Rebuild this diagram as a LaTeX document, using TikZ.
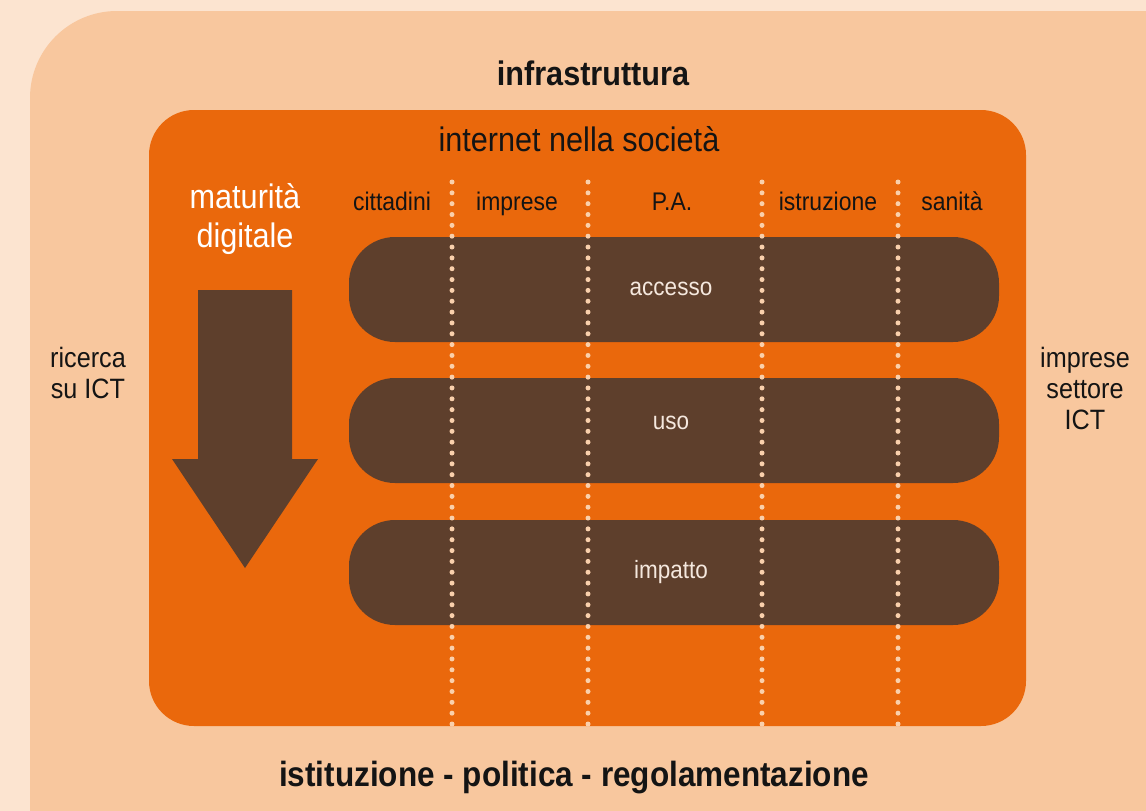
\documentclass[tikz,border=0pt]{standalone}
\usepackage{fontspec}
\setmainfont{Liberation Sans}[FakeStretch=0.9]
\definecolor{bglight}{RGB}{252,228,208}
\definecolor{peach}{RGB}{248,199,158}
\definecolor{orng}{RGB}{234,104,12}
\definecolor{brwn}{RGB}{94,63,44}
\definecolor{dotc}{RGB}{250,208,172}
\definecolor{cream}{RGB}{245,232,222}
\begin{document}
\begin{tikzpicture}[x=1pt,y=-1pt,
  lbl/.style={inner sep=0pt,anchor=base,text=black!92},
  collbl/.style={lbl,font=\fontsize{25.5}{27}\selectfont},
  rowlbl/.style={inner sep=0pt,anchor=center,text=cream,font=\fontsize{25}{27}\selectfont},
  sidelbl/.style={inner sep=0pt,anchor=center,align=center,text=black!92,font=\fontsize{28}{31}\selectfont},
  bar/.style={fill=brwn,rounded corners=46},
  dotline/.style={dotc,line width=5pt,line cap=round,dash pattern=on 0pt off 10.84pt}]
\useasboundingbox (0,0) rectangle (1146,811);
\fill[bglight] (0,0) rectangle (1146,811);
\begin{scope}
  \clip (0,0) rectangle (1146,811);
  \fill[peach,rounded corners=87] (30,11) rectangle (1300,1000);
\end{scope}
% inner orange
\fill[orng,rounded corners=45] (149,110) rectangle (1026,726);
% bars
\fill[bar] (349,237) rectangle (999,342);
\fill[bar] (349,378) rectangle (999,483);
\fill[bar] (349,520) rectangle (999,625);
% dotted column separators
\foreach \xx/\nm in {452/d1,588/d2,762/d3,898/d4}{
  \coordinate (\nm top) at (\xx,182);
  \coordinate (\nm bot) at (\xx,724.2);
  \draw[dotline] (\nm top) -- (\nm bot);
}
% arrow
\fill[brwn] (198,290) -- (292,290) -- (292,459) -- (318,459) -- (245,568) -- (172,459) -- (198,459) -- cycle;
% texts
\node[lbl,font=\bfseries\fontsize{34}{36}\selectfont] (infra) at (593,85) {infrastruttura};
\node[lbl,font=\fontsize{34}{36}\selectfont] (internet) at (579,151) {internet nella società};
\node[inner sep=0pt,anchor=center,align=center,text=white,font=\fontsize{34}{39}\selectfont] (matur) at (245,219.5) {maturità\\digitale};
\node[collbl] (cittadini) at (392,210) {cittadini};
\node[collbl] (imprese) at (517,210) {imprese};
\node[collbl] (pa) at (672,210) {P.A.};
\node[collbl] (istruzione) at (828,210) {istruzione};
\node[collbl] (sanita) at (952,210) {sanità};
\node[rowlbl] (accesso) at (671,289) {accesso};
\node[rowlbl] (uso) at (671,423) {uso};
\node[rowlbl] (impatto) at (671,572) {impatto};
\node[sidelbl] (ricerca) at (88,372.5) {ricerca\\su ICT};
\node[sidelbl] (settore) at (1085,388) {imprese\\settore\\ICT};
\node[lbl,font=\bfseries\fontsize{35}{37}\selectfont] (istituz) at (574,786) {istituzione - politica - regolamentazione};
\end{tikzpicture}
\end{document}
